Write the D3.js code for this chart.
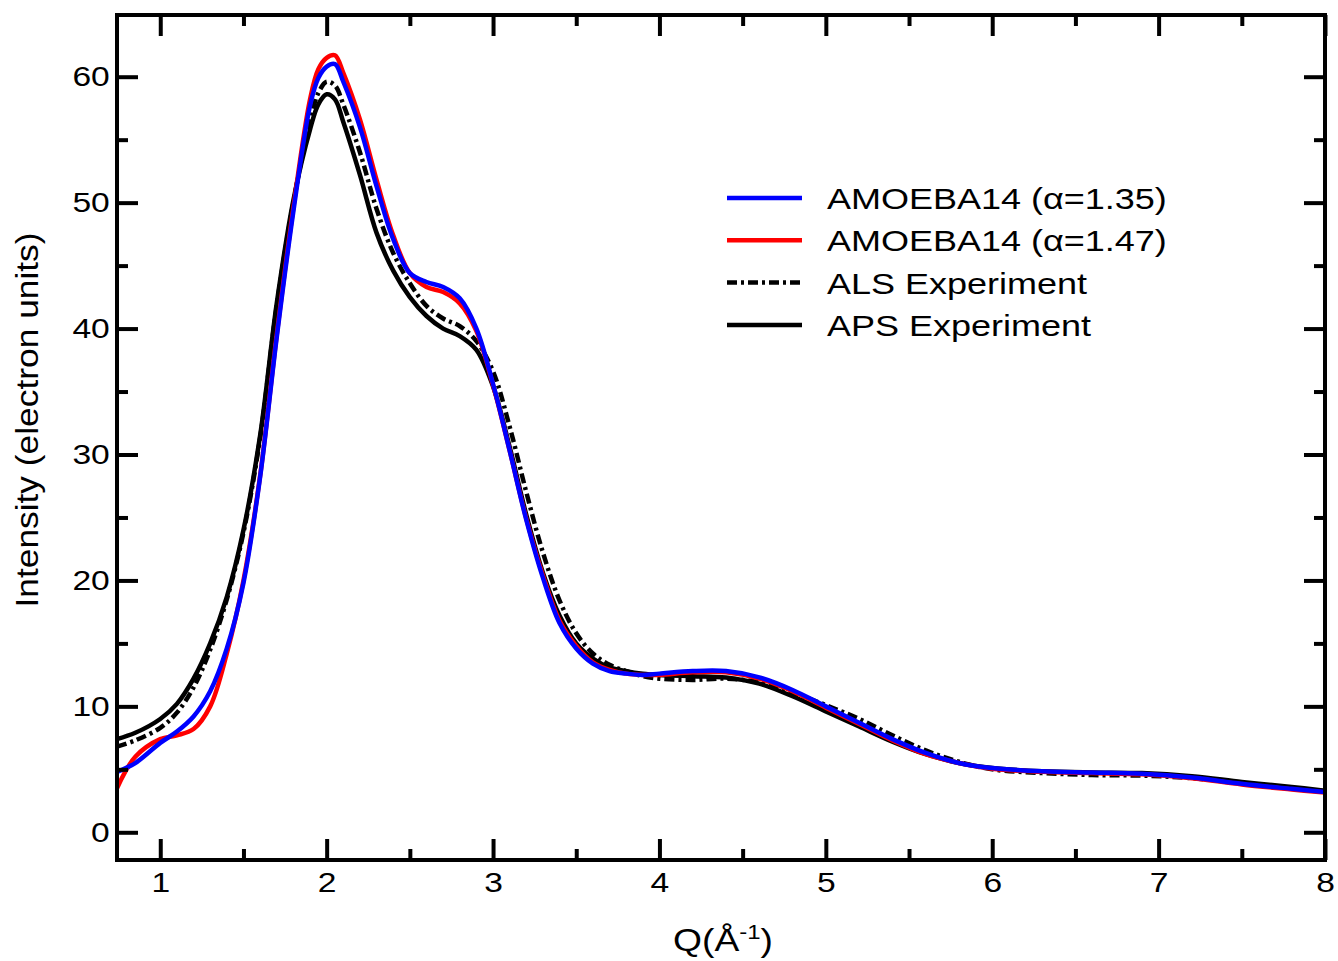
<!DOCTYPE html>
<html>
<head>
<meta charset="utf-8">
<script src="https://cdn.jsdelivr.net/npm/d3@7"></script>
<style>
  body { margin: 0; background: #fff; }
  text { font-family: "Liberation Sans", Arial, Helvetica, sans-serif; }
</style>
</head>
<body>
<div class="canva"></div>
<script>
// Q grid (1/Å) shared by all curves
const qValues = [0.74, 0.85, 1.0, 1.1, 1.2, 1.3, 1.4, 1.5, 1.6, 1.7, 1.8, 1.9, 1.95, 2.0, 2.05, 2.1, 2.2, 2.3, 2.4, 2.5, 2.6, 2.7, 2.8, 2.9, 3.0, 3.1, 3.2, 3.3, 3.4, 3.5, 3.6, 3.7, 3.8, 3.9, 4.0, 4.2, 4.4, 4.6, 4.8, 5.0, 5.2, 5.4, 5.6, 5.8, 6.0, 6.3, 6.6, 6.9, 7.2, 7.5, 7.8, 8.0];

const amoeba135 = [4.8, 5.5, 7.1, 8.0, 9.2, 11.2, 14.6, 19.8, 28.2, 39.3, 49.3, 57.7, 59.9, 60.8, 61.0, 59.6, 56.0, 51.3, 47.1, 44.4, 43.7, 43.3, 42.4, 40.0, 35.6, 30.3, 24.8, 20.2, 16.6, 14.6, 13.4, 12.8, 12.6, 12.5, 12.6, 12.8, 12.8, 12.3, 11.3, 10.0, 8.7, 7.4, 6.3, 5.5, 5.1, 4.85, 4.75, 4.65, 4.35, 3.85, 3.45, 3.2];

const amoeba147 = [3.5, 6.0, 7.4, 7.7, 8.2, 10.0, 14.2, 20.0, 28.3, 39.5, 49.6, 58.2, 60.6, 61.5, 61.7, 60.3, 56.6, 51.8, 47.4, 44.4, 43.3, 42.9, 42.0, 39.8, 35.5, 30.3, 24.9, 20.4, 16.8, 14.8, 13.5, 12.9, 12.6, 12.5, 12.5, 12.7, 12.7, 12.2, 11.2, 9.9, 8.6, 7.3, 6.2, 5.5, 5.05, 4.8, 4.7, 4.6, 4.3, 3.8, 3.4, 3.15];

const alsExp = [6.8, 7.3, 8.3, 9.5, 11.5, 14.5, 18.5, 23.8, 31.3, 41.8, 50.0, 56.5, 58.7, 59.6, 59.3, 57.8, 54.0, 49.5, 46.0, 43.6, 41.8, 40.8, 40.2, 39.0, 36.6, 32.2, 27.0, 22.2, 18.4, 15.8, 14.2, 13.3, 12.8, 12.4, 12.2, 12.1, 12.2, 11.9, 11.1, 10.1, 9.0, 7.7, 6.5, 5.6, 5.0, 4.7, 4.55, 4.5, 4.3, 3.9, 3.5, 3.25];

const apsExp = [7.4, 7.9, 9.0, 10.2, 12.2, 15.0, 18.7, 24.0, 31.5, 42.0, 50.2, 55.8, 57.8, 58.6, 58.2, 56.4, 52.2, 47.6, 44.6, 42.5, 41.0, 40.0, 39.4, 38.3, 35.4, 30.6, 25.2, 20.6, 17.2, 15.0, 13.8, 13.1, 12.8, 12.6, 12.5, 12.4, 12.3, 11.8, 10.8, 9.6, 8.4, 7.2, 6.2, 5.5, 5.1, 4.85, 4.75, 4.7, 4.45, 4.0, 3.6, 3.3];

const seriesNames = ['AMOEBA14 (α=1.35)', 'AMOEBA14 (α=1.47)', 'ALS Experiment', 'APS Experiment'];
const xTicks = [1, 2, 3, 4, 5, 6, 7, 8];
const yTicks = [0, 10, 20, 30, 40, 50, 60];

const series = [
  { name: seriesNames[3], values: apsExp, color: '#000', dash: null },
  { name: seriesNames[2], values: alsExp, color: '#000', dash: '10,4,3,4' },
  { name: seriesNames[1], values: amoeba147, color: '#ff0000', dash: null },
  { name: seriesNames[0], values: amoeba135, color: '#0000ff', dash: null }
];

const width = 1338, height = 961;
const margin = { top: 15, right: 13, bottom: 101, left: 117 };
const w = width - margin.left - margin.right;
const h = height - margin.top - margin.bottom;
const stretch = 1.2; // the original lettering is wide

const svg = d3.select('.canva').append('svg')
  .attr('width', width)
  .attr('height', height);

const g = svg.append('g')
  .attr('transform', `translate(${margin.left},${margin.top})`);

const x = d3.scaleLinear().domain([0.74, 8]).range([0, w]);
const y = d3.scaleLinear().domain([-2.2, 64.9]).range([h, 0]);

g.append('defs').append('clipPath').attr('id', 'clip')
  .append('rect').attr('width', w).attr('height', h);

const line = d3.line()
  .x((d, i) => x(qValues[i]))
  .y(d => y(d))
  .curve(d3.curveCatmullRom.alpha(0.5));

g.append('g').attr('clip-path', 'url(#clip)')
  .selectAll('path')
  .data(series)
  .enter()
  .append('path')
  .attr('fill', 'none')
  .attr('stroke', d => d.color)
  .attr('stroke-width', 4.5)
  .attr('stroke-dasharray', d => d.dash)
  .attr('d', d => line(d.values));

// axes with inward ticks on all four sides
const xMinor = d3.range(1.5, 8, 1);
const yMinor = d3.range(5, 65, 10);

function styleAxis(sel) {
  sel.select('.domain').remove();
  sel.selectAll('line').attr('stroke', '#000').attr('stroke-width', 4);
  sel.selectAll('text').attr('fill', '#000').style('font-size', '28px')
    .attr('transform', `scale(${stretch},1)`);
}

g.append('g').attr('transform', `translate(0,${h})`)
  .call(d3.axisBottom(x).tickValues(xTicks).tickSize(-21).tickPadding(12).tickFormat(d3.format('d')))
  .call(styleAxis);
g.append('g').attr('transform', `translate(0,${h})`)
  .call(d3.axisBottom(x).tickValues(xMinor).tickSize(-11).tickFormat(''))
  .call(styleAxis);
g.append('g')
  .call(d3.axisTop(x).tickValues(xTicks).tickSize(-21).tickFormat(''))
  .call(styleAxis);
g.append('g')
  .call(d3.axisTop(x).tickValues(xMinor).tickSize(-11).tickFormat(''))
  .call(styleAxis);

g.append('g')
  .call(d3.axisLeft(y).tickValues(yTicks).tickSize(-21).tickPadding(6).tickFormat(d3.format('d')))
  .call(styleAxis);
g.append('g')
  .call(d3.axisLeft(y).tickValues(yMinor).tickSize(-11).tickFormat(''))
  .call(styleAxis);
g.append('g').attr('transform', `translate(${w},0)`)
  .call(d3.axisRight(y).tickValues(yTicks).tickSize(-21).tickFormat(''))
  .call(styleAxis);
g.append('g').attr('transform', `translate(${w},0)`)
  .call(d3.axisRight(y).tickValues(yMinor).tickSize(-11).tickFormat(''))
  .call(styleAxis);

g.append('rect')
  .attr('width', w).attr('height', h)
  .attr('fill', 'none')
  .attr('stroke', '#000')
  .attr('stroke-width', 4);

// axis titles
svg.append('text')
  .attr('transform', `translate(${margin.left + w / 2 + 2},951) scale(${stretch},1)`)
  .attr('text-anchor', 'middle')
  .style('font-size', '31px')
  .html('Q(Å<tspan dy="-12" font-size="20px">-1</tspan><tspan dy="12">)</tspan>');

svg.append('text')
  .attr('transform', `translate(38,420) rotate(-90) scale(1.14,1)`)
  .attr('text-anchor', 'middle')
  .style('font-size', '31px')
  .text('Intensity (electron units)');

// legend
const legendItems = [series[3], series[2], series[1], series[0]];
const legend = svg.append('g').attr('transform', 'translate(727,198)');
legendItems.forEach((s, i) => {
  const row = legend.append('g').attr('transform', `translate(0,${i * 42.3})`);
  row.append('line')
    .attr('x1', 0).attr('x2', 75)
    .attr('stroke', s.color)
    .attr('stroke-width', 4.5)
    .attr('stroke-dasharray', s.dash);
  row.append('text')
    .attr('transform', `translate(100,11) scale(${stretch},1)`)
    .style('font-size', '30px')
    .text(s.name);
});
</script>
</body>
</html>
